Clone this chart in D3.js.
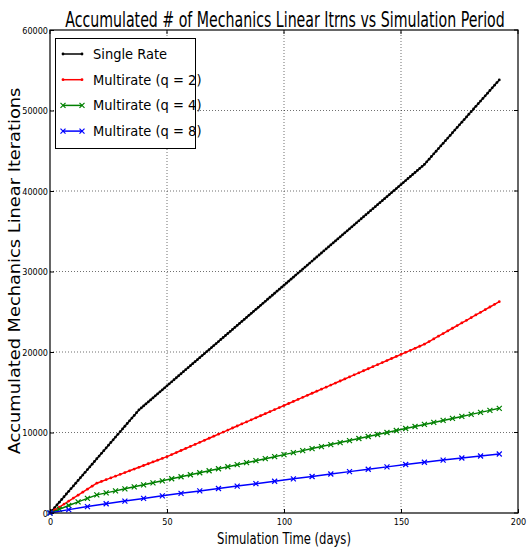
<!DOCTYPE html>
<html><head><meta charset="utf-8">
<script src="https://cdn.jsdelivr.net/npm/d3@7"></script>
<style>
body{margin:0;background:#fff;}
text{font-family:"DejaVu Sans Condensed","DejaVu Sans",sans-serif;}
</style></head>
<body><svg id="c" width="530" height="554"></svg>
<script>
const title = "Accumulated # of Mechanics Linear Itrns vs Simulation Period";
const xLabel = "Simulation Time (days)";
const yLabel = "Accumulated Mechanics Linear Iterations";
const xTicks = [0, 50, 100, 150, 200];
const yTicks = [0, 10000, 20000, 30000, 40000, 50000, 60000];
const seriesNames = ["Single Rate", "Multirate (q = 2)", "Multirate (q = 4)", "Multirate (q = 8)"];
const seriesColors = ["#000000", "#ff0000", "#008000", "#0000ff"];
const seriesMarkers = ["dot", "dot", "x", "x"];

// Single rate: one value per day, day 0..192
const singleDays = d3.range(0, 193, 1);
const singleVals = [0,337,674,1011,1347,1684,2021,2358,2695,3032,3368,3705,4042,4379,4716,5053,5389,5726,6063,6400,6737,7074,7411,7747,8084,8421,8758,9095,9432,9768,10105,10442,10779,11116,11453,11789,12126,12463,12800,
13050,13300,13550,13800,14050,14300,14550,14800,15050,15300,15550,15800,16050,16300,16550,16800,17050,17300,17550,17800,18050,18300,18550,18800,19050,19300,19550,19800,20050,20300,20550,20800,21050,21300,21550,21800,22050,22300,22550,22800,23050,23300,23550,23800,24050,24300,24550,24800,25050,25300,25550,25800,26050,26300,26550,26800,27050,27300,27550,27800,28050,28300,28550,28800,29050,29300,29550,29800,30050,30300,30550,30800,31050,31300,31550,31800,32050,32300,32550,32800,33050,33300,33550,33800,34050,34300,34550,34800,35050,35300,35550,35800,36050,36300,36550,36800,37050,37300,37550,37800,38050,38300,38550,38800,39050,39300,39550,39800,40050,40300,40550,40800,41050,41300,41550,41800,42050,42300,42550,42800,43050,43300,
43628,43956,44284,44612,44940,45268,45596,45924,46252,46580,46908,47236,47564,47892,48220,48548,48876,49204,49532,49860,50188,50516,50844,51172,51500,51828,52156,52484,52812,53140,53468,53796];

// Multirate q=2: every 2 days
const q2Days = d3.range(0, 193, 2);
const q2Vals = [0,370,740,1110,1480,1850,2220,2590,2960,3330,3700,
3920,4140,4360,4580,4800,5020,5240,5460,5680,5900,6120,6340,6560,6780,7000,
7254,7508,7762,8016,8270,8524,8778,9032,9286,9540,9794,10048,10302,10556,10810,11064,11318,11572,11826,12080,12334,12588,12842,13096,13350,13604,13858,14112,14366,14620,14874,15128,15382,15636,15890,16144,16398,16652,16906,17160,17414,17668,17922,18176,18430,18684,18938,19192,19446,19700,19954,20208,20462,20716,20970,
21300,21630,21960,22290,22620,22950,23280,23610,23940,24270,24600,24930,25260,25590,25920,26250];

// Multirate q=4: every 4 days
const q4Days = d3.range(0, 193, 4);
const q4Vals = [0,470,930,1380,1820,2250,2500,2750,3000,3250,3500,3750,4000,4250,4500,4750,5000,5250,5500,5750,6000,6250,6500,6750,7000,7250,7500,7750,8000,8250,8500,8750,9000,9250,9500,9750,10000,10250,10500,10750,11000,11250,11500,11750,12000,12250,12500,12750,13000];

// Multirate q=8: every 8 days
const q8Days = d3.range(0, 193, 8);
const q8Vals = [0,420,800,1150,1480,1810,2130,2440,2740,3040,3340,3640,3940,4240,4540,4840,5140,5440,5730,6020,6300,6570,6830,7080,7330];

const seriesDays = [singleDays, q2Days, q4Days, q8Days];
const seriesVals = [singleVals, q2Vals, q4Vals, q8Vals];

const svg = d3.select("#c");
const m = {l: 50, r: 12, t: 30, b: 41};
const W = 530, H = 554;
const x = d3.scaleLinear().domain([0, 200]).range([m.l, W - m.r]);
const y = d3.scaleLinear().domain([0, 60000]).range([H - m.b, m.t]);

// text squeezed along its own baseline to a target width
function fitText(parent, str, cx, cy, rot, size, width, family) {
  const gT = parent.append("g").attr("transform", `translate(${cx},${cy}) rotate(${rot})`);
  const t = gT.append("text").attr("text-anchor", "middle").attr("font-size", size).attr("fill", "#000").text(str);
  if (family) t.style("font-family", family);
  const w = t.node().getComputedTextLength();
  t.attr("transform", `scale(${width / w},1)`);
  return t;
}

// grid
const g = svg.append("g");
g.selectAll(".gx").data(xTicks.slice(1, -1)).join("line")
  .attr("x1", d => x(d)).attr("x2", d => x(d)).attr("y1", y(0)).attr("y2", y(60000))
  .attr("stroke", "#000").attr("stroke-width", 0.7).attr("stroke-dasharray", "1,2").attr("opacity", 0.8);
g.selectAll(".gy").data(yTicks.slice(1, -1)).join("line")
  .attr("y1", d => y(d)).attr("y2", d => y(d)).attr("x1", x(0)).attr("x2", x(200))
  .attr("stroke", "#000").attr("stroke-width", 0.7).attr("stroke-dasharray", "1,2").attr("opacity", 0.8);

// y label
fitText(svg, yLabel, 20, 271, -90, 16, 367, "'DejaVu Sans',sans-serif");

// axes
const xAxis = d3.axisBottom(x).tickValues(xTicks).tickFormat(d3.format("d")).tickSizeInner(-4).tickSizeOuter(0).tickPadding(6);
const yAxis = d3.axisLeft(y).tickValues(yTicks).tickFormat(d3.format("d")).tickSizeInner(-4).tickSizeOuter(0).tickPadding(2);
const gx = svg.append("g").attr("transform", `translate(0,${y(0)})`).call(xAxis);
const gy = svg.append("g").attr("transform", `translate(${x(0)},0)`).call(yAxis);
[gx, gy].forEach(a => {
  a.select(".domain").remove();
  a.selectAll("text").attr("font-size", 9).attr("fill", "#000").style("font-family", "'DejaVu Sans Condensed','DejaVu Sans',sans-serif");
  a.selectAll("line").attr("stroke", "#000");
});
gy.selectAll("text").attr("dy", "0.35em");
// top/right inward ticks
svg.append("g").selectAll("line").data(xTicks).join("line")
  .attr("x1", d => x(d)).attr("x2", d => x(d)).attr("y1", y(60000)).attr("y2", y(60000) + 4).attr("stroke", "#000");
svg.append("g").selectAll("line").data(yTicks).join("line")
  .attr("y1", d => y(d)).attr("y2", d => y(d)).attr("x1", x(200)).attr("x2", x(200) - 4).attr("stroke", "#000");

// lines
const line = d3.line().x(d => x(d[0])).y(d => y(d[1]));
const markX = (sel, color) => sel.append("path")
  .attr("d", "M-2.5,-2.5L2.5,2.5M-2.5,2.5L2.5,-2.5").attr("stroke", color).attr("stroke-width", 1.2);

seriesNames.forEach((name, i) => {
  const pts = seriesDays[i].map((d, j) => [d, seriesVals[i][j]]);
  const sg = svg.append("g");
  sg.append("path").datum(pts).attr("d", line).attr("fill", "none")
    .attr("stroke", seriesColors[i]).attr("stroke-width", 1.5);
  const mk = sg.selectAll("g").data(pts).join("g")
    .attr("transform", d => `translate(${x(d[0])},${y(d[1])})`);
  if (seriesMarkers[i] === "dot") {
    mk.append("circle").attr("r", 1.4).attr("fill", seriesColors[i]);
  } else {
    markX(mk, seriesColors[i]);
  }
});

// frame
svg.append("rect").attr("x", x(0)).attr("y", y(60000)).attr("width", x(200) - x(0)).attr("height", y(0) - y(60000))
  .attr("fill", "none").attr("stroke", "#000").attr("stroke-width", 1.2);

// legend
const lg = svg.append("g");
lg.append("rect").attr("x", 55.5).attr("y", 38.5).attr("width", 140).attr("height", 110)
  .attr("fill", "#fff").attr("stroke", "#000").attr("stroke-width", 1);
seriesNames.forEach((name, i) => {
  const yy = 54 + i * 25.7;
  lg.append("line").attr("x1", 63).attr("x2", 82).attr("y1", yy).attr("y2", yy)
    .attr("stroke", seriesColors[i]).attr("stroke-width", 1.5);
  [63, 82].forEach(xx => {
    const mg = lg.append("g").attr("transform", `translate(${xx},${yy})`);
    if (seriesMarkers[i] === "dot") mg.append("circle").attr("r", 1.4).attr("fill", seriesColors[i]);
    else markX(mg, seriesColors[i]);
  });
  lg.append("text").attr("x", 93).attr("y", yy).attr("dy", "0.35em")
    .attr("font-size", 14.5).attr("fill", "#000").text(name);
});

// title and x label
fitText(svg, title, 285, 27, 0, 21, 440);
fitText(svg, xLabel, 284, 544, 0, 16, 134);
</script></body></html>
